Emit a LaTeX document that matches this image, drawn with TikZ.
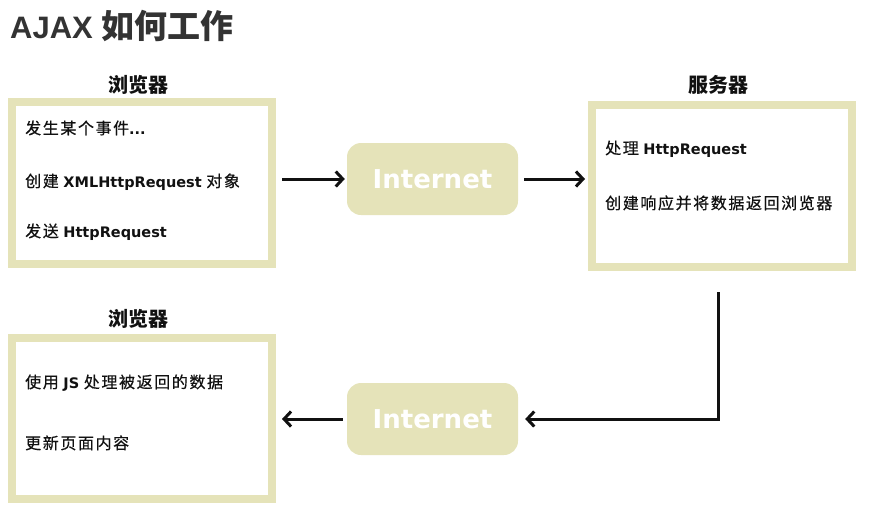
\documentclass[tikz,border=0pt]{standalone}
\usepackage{fontspec}
\setmainfont{DejaVu Sans}
\newfontfamily\cjkfont[LetterSpace=10,FakeBold=0.5]{Noto Sans CJK SC}
\newfontfamily\cjkhead{Noto Sans CJK SC}
\newfontfamily\headlat{Liberation Sans}
\usetikzlibrary{arrows.meta}
\definecolor{khaki}{RGB}{229,227,185}
\definecolor{ink}{RGB}{17,17,17}
\definecolor{titleink}{RGB}{51,51,51}
\newcommand\zhtxt[1]{{\cjkfont\fontsize{16}{19}\selectfont #1}}
\newcommand\entxt[1]{{\bfseries #1}}

\begin{document}
\begin{tikzpicture}[x=1pt,y=-1pt,
  panel/.style={draw=khaki, line width=8pt, fill=white, minimum width=260pt,
    minimum height=162pt, inner sep=0pt},
  net/.style={fill=khaki, rounded corners=14pt, minimum width=171pt,
    minimum height=72pt, inner sep=0pt, text=white,
    font=\fontsize{26}{30}\selectfont\bfseries},
  heading/.style={anchor=base, inner sep=0pt, text=ink,
    font=\cjkhead\fontsize{20}{24}\selectfont\bfseries},
  line/.style={anchor=base west, inner sep=0pt, text=ink,
    font=\fontsize{14.5}{17}\selectfont},
  flow/.style={draw=ink, line width=3pt,
    -{Straight Barb[length=7pt,width=15pt]}},
]
\useasboundingbox (0,0) rectangle (878,515);

% title
\node[anchor=base west, inner sep=0pt, text=titleink,
  font=\headlat\bfseries\fontsize{31}{36}\selectfont] (title) at (10,38)
  {AJAX {\cjkhead\fontsize{33}{38}\selectfont 如何工作}};

% browser (request side)
\node[heading] (h1) at (138,92) {浏览器};
\node[panel] (b1) at (142,183) {};
\node[line] (t11) at (25,134) {\zhtxt{发生某个事件}\entxt{...}};
\node[line] (t12) at (25,187) {\zhtxt{创建} \entxt{XMLHttpRequest} \zhtxt{对象}};
\node[line] (t13) at (25,237) {\zhtxt{发送} \entxt{HttpRequest}};

% network, outbound
\node[net] (i1) at (432.5,179) {Internet};

% server
\node[heading] (h2) at (718,92) {服务器};
\node[panel, minimum height=162.5pt] (srv) at (722,185.75) {};
\node[line] (t21) at (605,154) {\zhtxt{处理} \entxt{HttpRequest}};
\node[line] (t22) at (605,209) {\zhtxt{创建响应并将数据返回浏览器}};

% network, return
\node[net] (i2) at (432.5,419) {Internet};

% browser (response side)
\node[heading] (h3) at (138,326) {浏览器};
\node[panel, minimum height=161pt] (b2) at (142,418.5) {};
\node[line] (t31) at (25,388) {\zhtxt{使用} \entxt{JS} \zhtxt{处理被返回的数据}};
\node[line] (t32) at (25,449) {\zhtxt{更新页面内容}};

% connectors
\draw[flow, shorten <=6pt, shorten >=2pt] (b1.east |- i1) -- (i1.west);
\draw[flow, shorten <=6pt, shorten >=3pt] (i1.east) -- (srv.west |- i1);
\draw[flow, shorten <=21pt, shorten >=7pt] ([xshift=-4pt]srv.south) |- (i2.east);
\draw[flow, shorten <=4pt, shorten >=6pt] (i2.west) -- (b2.east |- i2);
\end{tikzpicture}
\end{document}
